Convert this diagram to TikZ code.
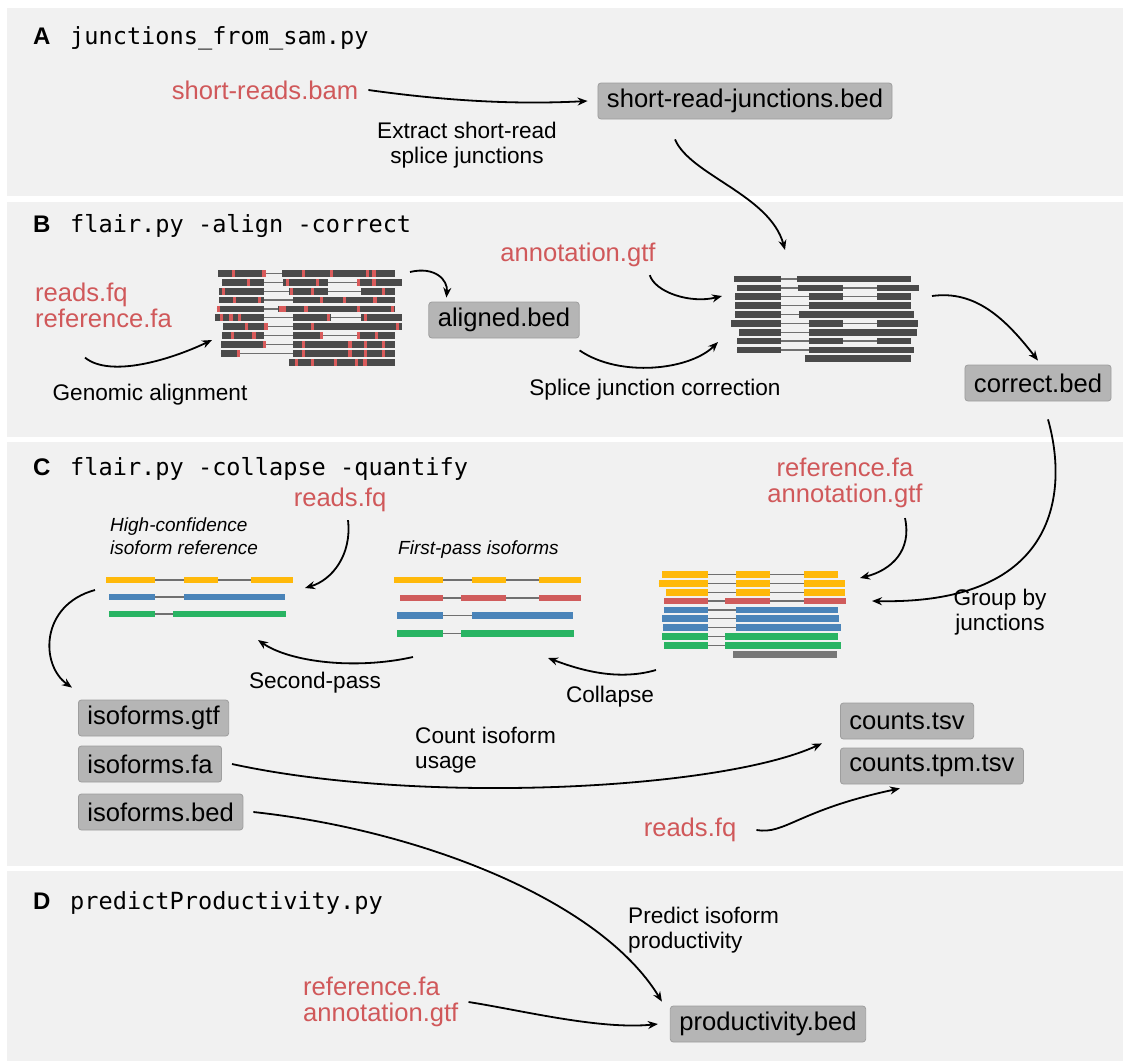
\documentclass[tikz,border=0pt]{standalone}
\usepackage{fontspec}
\setmainfont{Liberation Sans}
\setmonofont{DejaVu Sans Mono}
\usetikzlibrary{arrows.meta}

\definecolor{panelbg}{HTML}{F1F1F1}
\definecolor{lblred}{HTML}{D0585A}
\definecolor{boxfill}{HTML}{B5B5B5}
\definecolor{boxline}{HTML}{9E9E9E}
\definecolor{readgray}{HTML}{4A4A4A}
\definecolor{mismatch}{HTML}{D95B5B}
\definecolor{isoyellow}{HTML}{FFB90A}
\definecolor{isored}{HTML}{D05C5C}
\definecolor{isoblue}{HTML}{4A84B9}
\definecolor{isogreen}{HTML}{29B463}
\definecolor{isogray}{HTML}{777777}
\definecolor{introngray}{HTML}{707070}

% one read / isoform: y, colour, intron line start, intron line end, exon list
\newcommand\readrow[5]{%
  \draw[introngray,line width=1.2pt] (#3,#1) -- (#4,#1);
  \foreach \sa/\sb in {#5} {\fill[#2] (\sa,#1-3.4) rectangle (\sb,#1+3.4);}}
% mismatch ticks on an aligned read
\newcommand\mmarks[2]{%
  \foreach \m in {#2} {\fill[mismatch] (\m-1.7,#1-3.4) rectangle (\m+1.7,#1+3.4);}}

\begin{document}
\begin{tikzpicture}[x=1pt,y=-1pt,
  panel/.style={fill=panelbg,draw=none},
  file/.style={fill=boxfill,draw=boxline,line width=0.8pt,rounded corners=3pt,
    inner xsep=9pt,inner ysep=0pt,minimum height=36pt,
    font=\fontsize{25.6}{30}\selectfont,text=black},
  input/.style={text=lblred,font=\fontsize{25.6}{26}\selectfont,align=left,inner sep=0pt},
  note/.style={font=\fontsize{22.6}{25}\selectfont,align=center,inner sep=0pt},
  stage/.style={font=\fontsize{19}{23}\selectfont\itshape,align=left,inner sep=0pt,anchor=west},
  letter/.style={font=\fontsize{24}{28}\selectfont\bfseries,anchor=base west,inner sep=0pt},
  cmd/.style={font=\fontsize{23.6}{28}\selectfont\ttfamily,anchor=base west,inner sep=0pt},
  flow/.style={-{Stealth[length=10pt,width=8pt]},line width=1.8pt,black}]

\useasboundingbox (0,0) rectangle (1125,1061);
\fill[white] (0,0) rectangle (1125,1061);

% panels
\fill[panel] (7,8) rectangle (1123,196);
\fill[panel] (7,202) rectangle (1123,437);
\fill[panel] (7,442) rectangle (1123,866);
\fill[panel] (7,871) rectangle (1123,1061);

% ---------- A ----------
\node[letter] (la) at (33,44) {A};
\node[cmd] (ca) at (70,44) {junctions\_from\_sam.py};
\node[input] (bam) at (265,90) {short-reads.bam};
\node[file] (srj) at (745,101) {short-read-junctions.bed};
\node[note] (extract) at (467,145) {Extract short-read\\splice junctions};

% ---------- B ----------
\node[letter] (lb) at (33,232) {B};
\node[cmd] (cb) at (70,232) {flair.py -align -correct};
\node[input,anchor=west] (rfqB) at (35,305) {reads.fq\\reference.fa};
\node[note] (genal) at (150,395) {Genomic alignment};
\node[input] (annB) at (578,255) {annotation.gtf};
\node[file] (aln) at (504,320) {aligned.bed};
\node[note] (sjc) at (655,390) {Splice junction correction};
\node[file] (corr) at (1038,383) {correct.bed};

% aligned reads with mismatches
\readrow{273.3}{readgray}{218.3}{395}{218.3/265,281.7/395}
\mmarks{273.3}{233.3,264,303.3,331.7,367.7,374}
\readrow{282.2}{readgray}{221.7}{402.3}{221.7/264.3,282.7/327.7,356.7/402.3}
\mmarks{282.2}{248.3,287.3,317.7,358.3,374}
\readrow{291.1}{readgray}{219.3}{395}{219.3/264.3,289.3/327.7,360.7/395}
\mmarks{291.1}{223.3,291.7,312.3,383.3}
\readrow{300}{readgray}{219.3}{395}{219.3/264.3,293.3/395}
\mmarks{300}{234.3,259.3,321.7,344.3,375}
\readrow{308.9}{readgray}{216.7}{395}{216.7/264.3,278.3/395}
\mmarks{308.9}{218.3,280.5,284,306,358.3,392.7}
\readrow{317.8}{readgray}{215}{402.3}{215/264.3,293.3/331,360.7/402.3}
\mmarks{317.8}{221.7,231,239.3,328.3,365.7}
\readrow{326.7}{readgray}{222.7}{401.7}{222.7/264.3,293.3/401.7}
\mmarks{326.7}{246.7,266,312.3,397.7}
\readrow{335.6}{readgray}{221.7}{395}{221.7/264.3,293.3/323.3,356.7/395}
\mmarks{335.6}{232.7,254,321.7,358.3,376.7}
\readrow{344.5}{readgray}{220.7}{395}{220.7/264.3,293.3/395}
\mmarks{344.5}{264.3,303.3,350,365.7,383.3}
\readrow{353.4}{readgray}{220.7}{395}{220.7/239.3,293.3/395}
\mmarks{353.4}{238.3,303.3,350,365.7,383.3}
\readrow{362.3}{readgray}{289.3}{395}{289.3/395}
\mmarks{362.3}{296.7,312.3,335.7,356.7,365}

% corrected reads
\readrow{279}{readgray}{734}{910.7}{734/780.7,797.3/910.7}
\readrow{287.9}{readgray}{737.3}{918.7}{737.3/780.7,798.3/843.3,876.7/918.7}
\readrow{296.7}{readgray}{734.7}{910.7}{734.7/780.7,809.3/843.3,876.7/910.7}
\readrow{305.6}{readgray}{735.3}{910.7}{735.3/780.7,809.3/910.7}
\readrow{314.4}{readgray}{734.7}{914}{734.7/780.7,798.7/914}
\readrow{323.3}{readgray}{731.3}{918.3}{731.3/780.7,809.3/843.3,876.7/918.3}
\readrow{332.1}{readgray}{739.3}{917.3}{739.3/780.7,809.3/917.3}
\readrow{341}{readgray}{737.3}{910.7}{737.3/780.7,809.3/843.3,876.7/910.7}
\readrow{349.9}{readgray}{736.7}{914}{736.7/780.7,809.3/914}
\readrow{358.7}{readgray}{805.3}{910.7}{805.3/910.7}

\coordinate (alnIn) at (212,340);
\coordinate (alnOut) at (410,272);
\coordinate (corrInTop) at (785,250);
\coordinate (corrInA) at (722,296);
\coordinate (corrInB) at (718,342);
\coordinate (corrOut) at (932,296);

% ---------- C ----------
\node[letter] (lc) at (33,475) {C};
\node[cmd] (cc) at (70,475) {flair.py -collapse -quantify};
\node[input,align=center] (refC) at (845,483) {reference.fa\\annotation.gtf};
\node[note] (grp) at (1000,612) {Group by\\junctions};
\node[input] (rfqC) at (340,500) {reads.fq};
\node[stage] (hc) at (110,536) {High-confidence\\isoform reference};
\node[stage] (fp) at (398,550) {First-pass isoforms};
\node[note] (second) at (315,683) {Second-pass};
\node[note] (collapse) at (610,697) {Collapse};
\node[note,align=left,anchor=west] (count) at (415,750) {Count isoform\\usage};
\node[input] (rfqC2) at (690,830) {reads.fq};

\node[file,anchor=west] (igtf) at (78,718) {isoforms.gtf};
\node[file,anchor=west] (ifa) at (78,764) {isoforms.fa};
\node[file,anchor=west] (ibed) at (78,812) {isoforms.bed};
\node[file,anchor=west] (cnt) at (840,721) {counts.tsv};
\node[file,anchor=west] (tpm) at (840,766) {counts.tpm.tsv};

% high-confidence isoform reference
\readrow{580}{isoyellow}{106}{292.7}{106/155,184/217.7,251/292.7}
\readrow{597}{isoblue}{109.3}{285}{109.3/155,184/285}
\readrow{614}{isogreen}{109.3}{286}{109.3/155,172.7/286}

% first-pass isoforms
\readrow{580}{isoyellow}{394}{580.7}{394/442.7,471.7/505.7,539.3/580.7}
\readrow{598}{isored}{400}{580.7}{400/442.7,461/505.7,539.3/580.7}
\readrow{615.7}{isoblue}{397.3}{573.3}{397.3/442.7,472.3/573.3}
\readrow{633.3}{isogreen}{397.3}{574}{397.3/442.7,461/574}

% reads grouped by junctions
\readrow{574.3}{isoyellow}{662}{838}{662/707.7,736.3/770.3,803.7/838}
\readrow{583.3}{isoyellow}{658.7}{845}{658.7/707.7,736.3/770.3,803.7/845}
\readrow{592.3}{isoyellow}{666}{844.7}{666/707.7,736.3/770.3,803.7/844.7}
\readrow{601}{isored}{664.3}{845.7}{664.3/707.7,725.3/770.3,803.7/845.7}
\readrow{610}{isoblue}{664.3}{838}{664.3/707.7,736.3/838}
\readrow{618.7}{isoblue}{662}{838.7}{662/707.7,736.3/838.7}
\readrow{627.7}{isoblue}{662.7}{840.7}{662.7/707.7,736.3/840.7}
\readrow{636.7}{isogreen}{662}{838}{662/707.7,725.3/838}
\readrow{645.7}{isogreen}{664.3}{840.7}{664.3/707.7,725.3/840.7}
\readrow{654.7}{isogray}{733}{837.3}{733/837.3}

\coordinate (grpIn) at (872,601);
\coordinate (grpInTop) at (860,578);
\coordinate (grpOut) at (656,670);
\coordinate (fpIn) at (548,658);
\coordinate (fpOut) at (413,657);
\coordinate (hcIn) at (258,640);
\coordinate (hcInTop) at (305,588);
\coordinate (hcOut) at (95,590);

% ---------- D ----------
\node[letter] (ld) at (33,909) {D};
\node[cmd] (cd) at (70,909) {predictProductivity.py};
\node[note,align=left,anchor=west] (pred) at (628,930) {Predict isoform\\productivity};
\node[input,anchor=west] (refD) at (303,1002) {reference.fa\\annotation.gtf};
\node[file] (prod) at (768,1024) {productivity.bed};

% ---------- connectors ----------
\draw[flow] ([xshift=10pt]bam.east) .. controls (440,100) and (510,105) .. ([xshift=-10pt]srj.west);
\draw[flow] ([xshift=-70pt,yshift=-20pt]srj.south) .. controls (690,175) and (770,195) .. (corrInTop);
\draw[flow] ([xshift=50pt,yshift=-30pt]rfqB.south west) .. controls (110,378) and (170,360) .. (alnIn);
\draw[flow] (alnOut) .. controls (435,266) and (448,280) .. ([xshift=18pt,yshift=4pt]aln.north west);
\draw[flow] ([xshift=-6pt,yshift=-8pt]annB.south east) .. controls (655,292) and (690,304) .. (corrInA);
\draw[flow] ([yshift=-12pt]aln.south east) .. controls (620,378) and (690,370) .. (corrInB);
\draw[flow] (corrOut) .. controls (975,290) and (1005,318) .. ([yshift=4pt]corr.north);
\draw[flow] ([xshift=10pt,yshift=-18pt]corr.south) .. controls (1068,490) and (1060,605) .. (grpIn);
\draw[flow] ([xshift=60pt,yshift=-10pt]refC.south) .. controls (912,550) and (892,570) .. (grpInTop);
\draw[flow] ([xshift=8pt,yshift=-8pt]rfqC.south) .. controls (352,555) and (332,580) .. (hcInTop);
\draw[flow] (grpOut) .. controls (615,682) and (575,668) .. (fpIn);
\draw[flow] (fpOut) .. controls (355,670) and (290,662) .. (hcIn);
\draw[flow] (hcOut) .. controls (40,605) and (40,665) .. ([xshift=-6pt,yshift=12pt]igtf.north west);
\draw[flow] ([xshift=10pt]ifa.east) .. controls (420,805) and (720,790) .. ([xshift=-18pt,yshift=-4pt]cnt.south west);
\draw[flow] ([xshift=20pt]rfqC2.east) .. controls (785,835) and (798,810) .. ([xshift=-32pt,yshift=-4pt]tpm.south);
\draw[flow] ([xshift=10pt]ibed.east) .. controls (420,830) and (600,900) .. ([xshift=-8pt,yshift=4pt]prod.north west);
\draw[flow] ([xshift=10pt]refD.east) .. controls (520,1010) and (600,1030) .. ([xshift=-12pt]prod.west);

\end{tikzpicture}
\end{document}
